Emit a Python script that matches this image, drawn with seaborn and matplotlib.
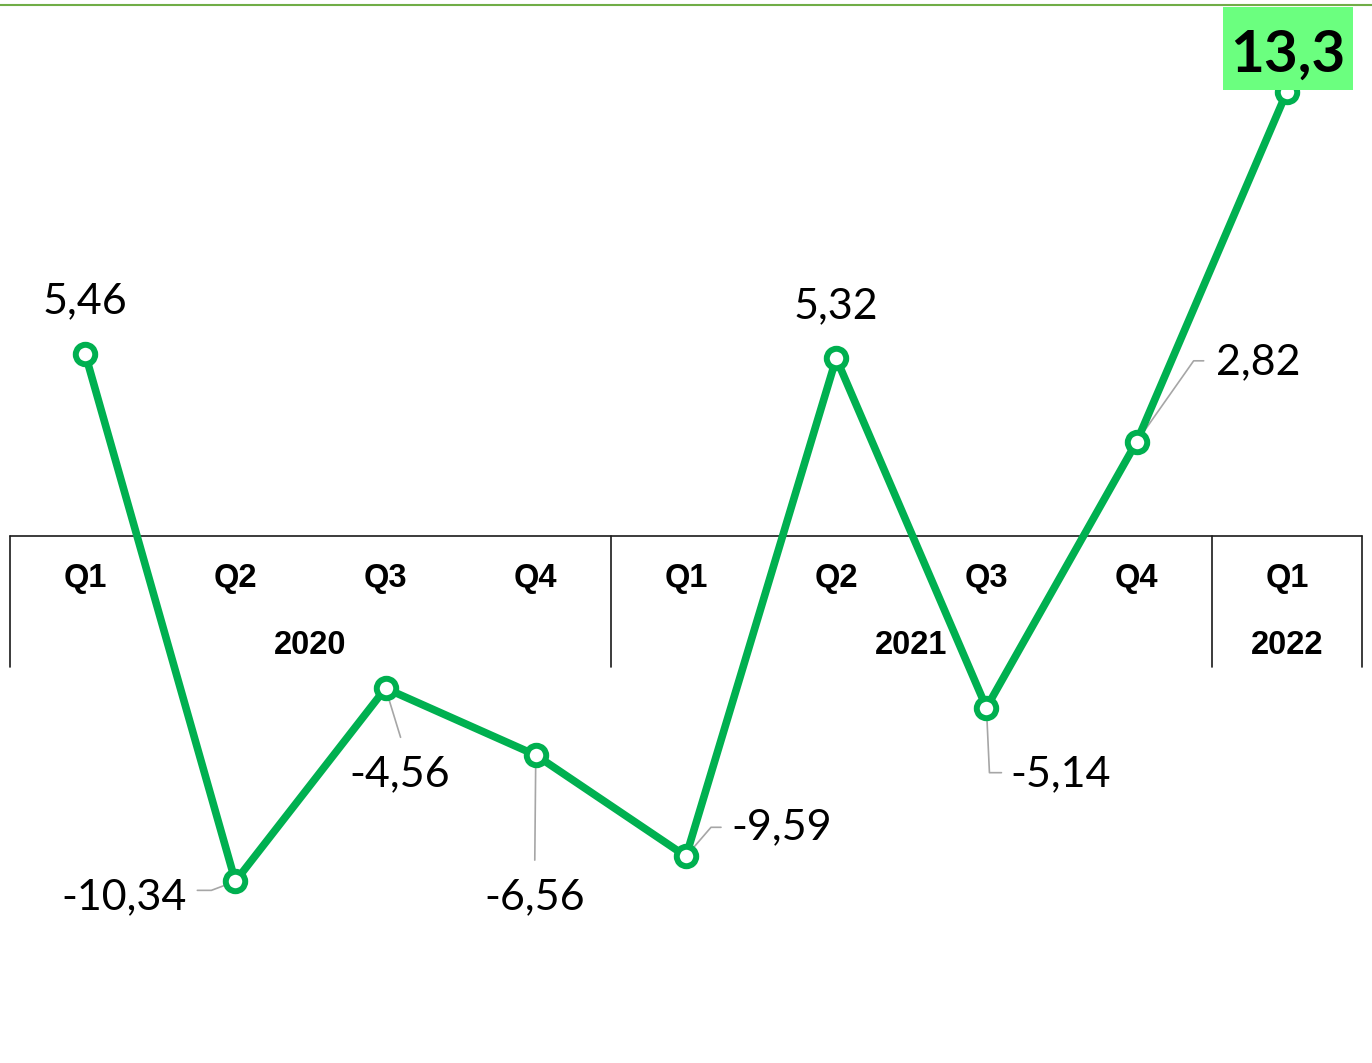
import numpy as np
import pandas as pd
import matplotlib
matplotlib.use('Agg')
import matplotlib.pyplot as plt
from matplotlib.patches import Rectangle
import seaborn as sns

# data
quarters = ['Q1', 'Q2', 'Q3', 'Q4', 'Q1', 'Q2', 'Q3', 'Q4', 'Q1']
years = ['2020', '2021', '2022']
year_spans = [(0, 3), (4, 7), (8, 8)]
values = [5.46, -10.34, -4.56, -6.56, -9.59, 5.32, -5.14, 2.82, 13.3]
labels = ['5,46', '-10,34', '-4,56', '-6,56', '-9,59', '5,32', '-5,14', '2,82', '13,3']

GREEN = '#00B050'
W, H = 1372, 1063

sns.set_style('white')
plt.rcParams['font.family'] = ['Lato', 'DejaVu Sans']
plt.rcParams['text.color'] = 'black'

fig = plt.figure(figsize=(W / 100, H / 100), dpi=100)
ax = fig.add_axes([0, 0, 1, 1])
ax.set_axis_off()

# scale: 150 px per category, ~33.4 px per unit, zero line at y=536 px
ax.set_xlim(-0.5 - 10 / 150, 8.5 + 10 / 150)
ax.set_ylim(-(H - 536) / 33.4, 536 / 33.4)

df = pd.DataFrame({'i': np.arange(len(values)), 'v': values})

# category table below / on the zero line
n = len(quarters)
ax.plot([-0.5, n - 0.5], [0, 0], color='#1a1a1a', lw=1.2, zorder=1)
bottom = -131 / 33.4
for s, e in year_spans:
    ax.plot([s - 0.5, s - 0.5], [0, bottom], color='#1a1a1a', lw=1.2, zorder=1)
ax.plot([n - 0.5, n - 0.5], [0, bottom], color='#1a1a1a', lw=1.2, zorder=1)

for i, q in enumerate(quarters):
    ax.text(i, -43 / 33.4, q, ha='center', va='center', fontsize=23.5,
            fontweight='bold', family='Liberation Sans', color='black', zorder=1)
for yr, (s, e) in zip(years, year_spans):
    ax.text((s + e) / 2, -109 / 33.4, yr, ha='center', va='center', fontsize=23.5,
            fontweight='bold', family='Liberation Sans', color='black', zorder=1)

# top border line
ax.plot([0, 1], [1 - 5 / H, 1 - 5 / H], transform=ax.transAxes,
        color='#70AD47', lw=1.5, zorder=1)

sns.lineplot(data=df, x='i', y='v', ax=ax, color=GREEN, lw=5.5, marker='o',
             markersize=14, markerfacecolor='white', markeredgecolor=GREEN,
             markeredgewidth=4.3, zorder=3)

# label offsets in pixels (text position, alignment, leader path)
label_style = [
    ((0, 52), 'center', None),
    ((-49, -16), 'right', [(0, 0), (-24, -9), (-38, -9)]),
    ((14, -86), 'center', [(0, 0), (15, -49)]),
    ((-1, -142), 'center', [(0, 0), (-1, -105)]),
    ((45, 29), 'left', [(0, 0), (25, 29), (35, 29)]),
    ((0, 52), 'center', None),
    ((24, -67), 'left', [(0, 0), (3, -65), (15, -65)]),
    ((79, 80), 'left', [(0, 0), (57, 81), (67, 81)]),
]

for i, (lab, v) in enumerate(zip(labels, values)):
    px, py = ax.transData.transform((i, v))
    if i < len(label_style):
        (dx, dy), ha, path = label_style[i]
        if path is not None:
            xs = [px + a for a, b in path]
            ys = [py + b for a, b in path]
            ax.plot(xs, ys, transform=None, color='#A6A6A6', lw=1.2, zorder=2)
        ax.text(px + dx, py + dy, lab, transform=None, ha=ha, va='center',
                fontsize=31, color='black', zorder=4)
    else:
        # highlighted last value
        ax.add_patch(Rectangle((px - 64, py + 2), 130, 83, transform=None,
                               fc='#6BFF7F', ec='none', zorder=4))
        ax.text(px + 1, py + 20, lab, transform=None, ha='center', va='baseline',
                fontsize=42, fontweight='bold', color='black', zorder=5)

fig.savefig('out.png', dpi=100)
